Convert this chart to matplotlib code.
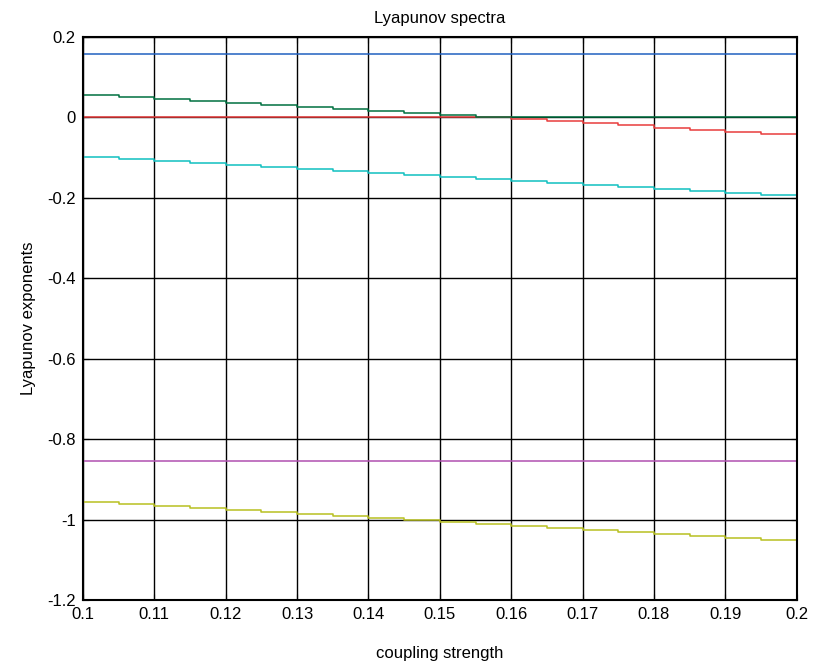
import numpy as np
import matplotlib
matplotlib.use('Agg')
import matplotlib.pyplot as plt

plt.rcParams['font.family'] = ['Liberation Sans', 'DejaVu Sans']

# coupling strength samples
coupling = [0.100, 0.105, 0.110, 0.115, 0.120, 0.125, 0.130, 0.135, 0.140, 0.145,
            0.150, 0.155, 0.160, 0.165, 0.170, 0.175, 0.180, 0.185, 0.190, 0.195, 0.200]

# Lyapunov exponents
lyap_1 = [0.158] * 21
lyap_2 = [0.055, 0.050, 0.045, 0.040, 0.036, 0.031, 0.026, 0.021, 0.016, 0.011,
          0.006, 0.001, 0.0, 0.0, 0.0, 0.0, 0.0, 0.0, 0.0, 0.0, 0.0]
lyap_3 = [0.0, 0.0, 0.0, 0.0, 0.0, 0.0, 0.0, 0.0, 0.0, 0.0,
          0.0, 0.0, -0.003, -0.008, -0.014, -0.019, -0.025, -0.030, -0.036, -0.041, -0.046]
lyap_4 = [-0.098, -0.103, -0.108, -0.113, -0.118, -0.123, -0.128, -0.133, -0.138, -0.143,
          -0.148, -0.153, -0.158, -0.163, -0.168, -0.173, -0.178, -0.184, -0.189, -0.194, -0.199]
lyap_5 = [-0.854] * 21
lyap_6 = [-0.956, -0.961, -0.966, -0.971, -0.976, -0.981, -0.986, -0.991, -0.996, -1.001,
          -1.006, -1.011, -1.016, -1.021, -1.026, -1.031, -1.036, -1.041, -1.046, -1.051, -1.056]

series = [lyap_1, lyap_3, lyap_2, lyap_4, lyap_5, lyap_6]
colors = ['#2060c0', '#e83c3c', '#007040', '#10c0c0', '#b050b0', '#b8c020']

fig = plt.figure(figsize=(8.13, 6.67), dpi=100)
ax = fig.add_axes([0.102, 0.1004, 0.878, 0.8441])

for vals, c in zip(series, colors):
    ax.plot(coupling, vals, color=c, lw=1.1, drawstyle='steps-post')

ax.set_xlim(0.1, 0.2)
ax.set_ylim(-1.2, 0.2)
ax.set_xticks(np.arange(0.1, 0.2001, 0.01))
ax.set_xticklabels(['0.1', '0.11', '0.12', '0.13', '0.14', '0.15', '0.16', '0.17', '0.18', '0.19', '0.2'])
ax.set_yticks(np.arange(-1.2, 0.2001, 0.2))
ax.set_yticklabels(['-1.2', '-1', '-0.8', '-0.6', '-0.4', '-0.2', '0', '0.2'])
ax.grid(True, color='black', lw=1.0, ls='-')
ax.tick_params(direction='in', length=4, labelsize=12, top=True, right=True, pad=5)
for s in ax.spines.values():
    s.set_linewidth(1.5)

ax.set_title('Lyapunov spectra', fontsize=12, pad=10)
ax.set_xlabel('coupling strength', fontsize=12, labelpad=17)
ax.set_ylabel('Lyapunov exponents', fontsize=12, labelpad=8)

plt.savefig('out.png', dpi=100)
